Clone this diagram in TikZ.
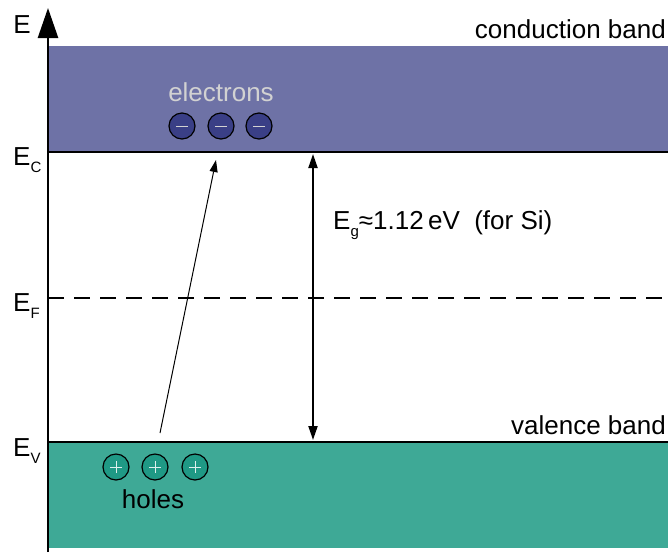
\documentclass[tikz,border=0pt]{standalone}
\usepackage{fontspec}
\setmainfont{Liberation Sans}
\usetikzlibrary{arrows.meta}
\definecolor{cband}{HTML}{6E72A6}
\definecolor{vband}{HTML}{3EA996}
\definecolor{edot}{HTML}{3A3F86}
\definecolor{hdot}{HTML}{1F9985}
\definecolor{ltxt}{HTML}{D2D2D2}
\newcommand{\sublow}[1]{\raisebox{-0.55ex}{\fontsize{15}{15}\selectfont #1}}
\begin{document}
\begin{tikzpicture}[x=1pt,y=-1pt,
  lbl/.style={font=\fontsize{26}{30}\selectfont, inner sep=0pt},
  carrier/.style={circle, draw=black, line width=1.2pt, minimum size=26pt, inner sep=0pt},
  electron/.style={carrier, fill=edot, path picture={\draw[ltxt, line width=1pt] ([xshift=-6pt]path picture bounding box.center) -- ([xshift=6pt]path picture bounding box.center);}},
  hole/.style={carrier, fill=hdot, path picture={\draw[white!85!hdot, line width=1pt] ([xshift=-6pt]path picture bounding box.center) -- ([xshift=6pt]path picture bounding box.center) ([yshift=-6pt]path picture bounding box.center) -- ([yshift=6pt]path picture bounding box.center);}}]
\useasboundingbox (0,0) rectangle (668,555);
% bands
\fill[cband] (48,46) rectangle (668,152);
\fill[vband] (48,442) rectangle (668,548);
\draw[line width=1.2pt] (48,152) -- (668,152);
\draw[line width=1.2pt] (48,442) -- (668,442);
\draw[line width=1.5pt, dash pattern=on 16pt off 10pt] (48,298) -- (668,298);
% axis
\coordinate (ax0) at (48,552);
\coordinate (ax1) at (48,8);
\draw[line width=2.5pt, -{Triangle[length=30pt,width=20pt]}] (ax0) -- (ax1);
% labels
\node[lbl, anchor=base] (lE) at (22,33) {E};
\node[lbl, anchor=base west] (lEC) at (13,165) {E\sublow{C}};
\node[lbl, anchor=base west] (lEF) at (13,311) {E\sublow{F}};
\node[lbl, anchor=base west] (lEV) at (13,456) {E\sublow{V}};
\node[lbl, anchor=base east] (lcb) at (666,38) {conduction band};
\node[lbl, anchor=base east] (lvb) at (666,434) {valence band};
\node[lbl, anchor=base, text=ltxt] (lel) at (221,101) {electrons};
\node[lbl, anchor=base] (lho) at (153,508) {holes};
% carriers
\node[electron] (e1) at (182,126) {};
\node[electron] (e2) at (221,126) {};
\node[electron] (e3) at (259,126) {};
\node[hole] (h1) at (116,467) {};
\node[hole] (h2) at (155,467) {};
\node[hole] (h3) at (195,467) {};
% excitation arrow
\coordinate (ex0) at (160,433);
\coordinate (ex1) at (216,160);
\draw[line width=1pt, -{Triangle[length=12pt,width=8pt]}] (ex0) -- (ex1);
% gap arrow
\coordinate (g0) at (313,154);
\coordinate (g1) at (313,440);
\draw[line width=2pt, {Triangle[length=14pt,width=9pt]}-{Triangle[length=14pt,width=9pt]}] (g0) -- (g1);
\node[lbl, anchor=base west] (lgap) at (333,229) {E\sublow{g}≈1.12\,eV\ \ (for Si)};
\end{tikzpicture}
\end{document}
